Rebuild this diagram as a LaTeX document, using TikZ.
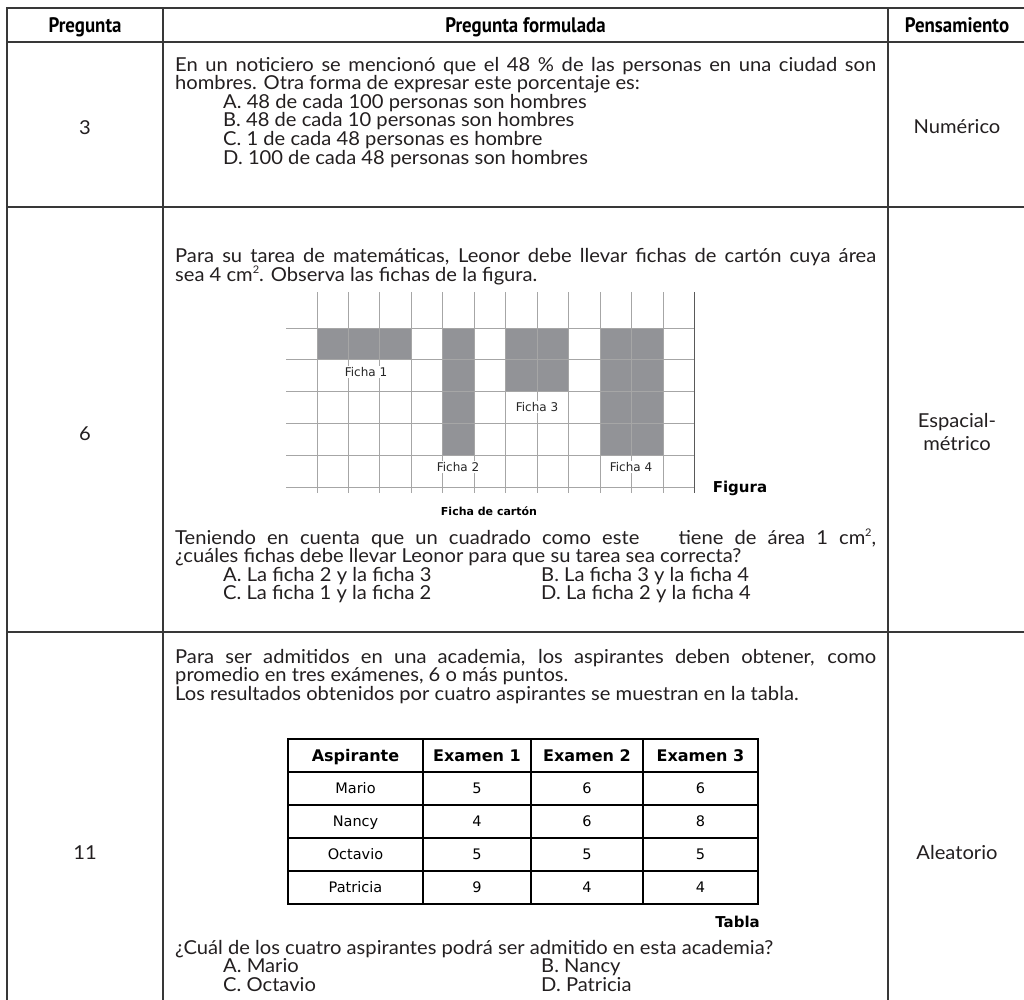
\documentclass[tikz,border=0pt]{standalone}
\usepackage{fontspec}
\setmainfont[FakeStretch=1.05]{Lato}
\newfontfamily\hdrfont[FakeStretch=0.9]{PT Sans}
\newfontfamily\verd{DejaVu Sans}
\newcommand\fsz[1]{\fontsize{#1}{#1}\selectfont}
\newcommand\sqtwo{\raisebox{0.75ex}{\fsz{10.5}2}}
\definecolor{fichagray}{RGB}{146,147,151}
\definecolor{inktext}{RGB}{35,31,32}
\tikzset{
 tbl/.style={draw=black!78, line width=1.3pt},
 hdr/.style={anchor=base, inner sep=0pt, font=\hdrfont\bfseries\fsz{21}, text=black},
 ln/.style={anchor=base west, inner sep=0pt, font=\fsz{19.2}, text=inktext},
 ctr/.style={anchor=base, inner sep=0pt, font=\fsz{19.2}, text=inktext},
 gridl/.style={draw=black!35, line width=0.9pt},
 gridr/.style={draw=black!65, line width=1.3pt},
 ficha/.style={fill=fichagray},
 lab/.style={font=\verd\fsz{12}, fill=white, inner sep=1.2pt, text=black!85},
 labb/.style={font=\verd\bfseries\fsz{11}, inner sep=0pt, text=black},
 tcell/.style={font=\verd\fsz{14.5}, inner sep=0pt, anchor=base, text=black},
 thead/.style={font=\verd\bfseries\fsz{16}, inner sep=0pt, anchor=base, text=black},
 tb2/.style={draw=black, line width=1.4pt},
}
\newcommand\jl[1]{\makebox[701pt][s]{#1}}
\begin{document}
\begin{tikzpicture}[x=1pt,y=-1pt]
\useasboundingbox[fill=white] (0,0) rectangle (1024,999);
% ---- outer table ----
\draw[tbl] (7,1005) -- (7,8) -- (1035,8);
\draw[tbl] (163,8) -- (163,1005);
\draw[tbl] (888,8) -- (888,1005);
\draw[tbl] (7,42) -- (1035,42);
\draw[tbl] (7,207) -- (1035,207);
\draw[tbl] (7,632) -- (1035,632);
% ---- header ----
\node[hdr] (h1) at (85,32) {Pregunta};
\node[hdr] (h2) at (525.5,32) {Pregunta formulada};
\node[hdr] (h3) at (957,32) {Pensamiento};
% ---- row 1 ----
\node[ctr] (n3) at (85,134.5) {3};
\node[ctr] (p1) at (957,133) {Numérico};
\node[ln] (r1a) at (175,71) {\jl{En un noticiero se mencionó que el 48 \% de las personas en una ciudad son}};
\node[ln] (r1b) at (175,89.6) {hombres. Otra forma de expresar este porcentaje es:};
\node[ln] (r1c) at (223,108.2) {A. 48 de cada 100 personas son hombres};
\node[ln] (r1d) at (223,126.8) {B. 48 de cada 10 personas son hombres};
\node[ln] (r1e) at (223,145.4) {C. 1 de cada 48 personas es hombre};
\node[ln] (r1f) at (223,164) {D. 100 de cada 48 personas son hombres};
% ---- row 2 ----
\node[ctr] (n6) at (85,440) {6};
\node[ctr] (p2a) at (957,427) {Espacial-};
\node[ctr] (p2b) at (957,450) {métrico};
\node[ln] (r2a) at (175,262) {\jl{Para su tarea de matemáticas, Leonor debe llevar fichas de cartón cuya área}};
\node[ln] (r2b) at (175,281) {sea 4 cm\sqtwo. Observa las fichas de la figura.};
% grid figure
\fill[ficha] (317,328) rectangle (411.35,359.8);
\fill[ficha] (442.8,328) rectangle (474.25,455.2);
\fill[ficha] (505.7,328) rectangle (568.6,391.6);
\fill[ficha] (600.05,328) rectangle (662.95,455.2);
\foreach \i in {0,...,11} \draw[gridl] (317+\i*31.45,292) -- (317+\i*31.45,493);
\foreach \j in {0,...,5} \draw[gridl] (286,328+\j*31.8) -- (694.4,328+\j*31.8);
\draw[gridr] (694.4,292) -- (694.4,493);
\node[lab] (f1) at (366,372) {Ficha 1};
\node[lab] (f2) at (458,467) {Ficha 2};
\node[lab] (f3) at (537,407) {Ficha 3};
\node[lab] (f4) at (631,467) {Ficha 4};
\node[labb, font=\verd\bfseries\fsz{15}] (fig) at (740,488) {Figura};
\node[labb] (fc) at (489,511) {Ficha de cartón};
\node[ln] (r2c) at (175,544) {\jl{Teniendo en cuenta que un cuadrado como este\hspace{28pt} tiene de área 1 cm\sqtwo,}};
\node[ln] (r2d) at (175,562.6) {¿cuáles fichas debe llevar Leonor para que su tarea sea correcta?};
\node[ln] (r2e) at (223,581.2) {A. La ficha 2 y la ficha 3};
\node[ln] (r2f) at (541,581.2) {B. La ficha 3 y la ficha 4};
\node[ln] (r2g) at (223,599.8) {C. La ficha 1 y la ficha 2};
\node[ln] (r2h) at (541,599.8) {D. La ficha 2 y la ficha 4};
% ---- row 3 ----
\node[ctr] (n11) at (85,859) {11};
\node[ctr] (p3) at (957,859) {Aleatorio};
\node[ln] (r3a) at (175,663) {\jl{Para ser admitidos en una academia, los aspirantes deben obtener, como}};
\node[ln] (r3b) at (175,681.6) {promedio en tres exámenes, 6 o más puntos.};
\node[ln] (r3c) at (175,700.2) {Los resultados obtenidos por cuatro aspirantes se muestran en la tabla.};
% inner table
\draw[tb2] (288,739) rectangle (758,904);
\foreach \xx in {423,531,643} \draw[tb2] (\xx,739) -- (\xx,904);
\foreach \yy in {772,805,838,871} \draw[tb2] (288,\yy) -- (758,\yy);
\node[thead] (ta) at (355.5,761) {Aspirante};
\node[thead] (tb) at (477,761) {Examen 1};
\node[thead] (tc) at (587,761) {Examen 2};
\node[thead] (td) at (700.5,761) {Examen 3};
\node[tcell] (m0) at (355.5,793.5) {Mario};
\node[tcell] (m1) at (477,793.5) {5};
\node[tcell] (m2) at (587,793.5) {6};
\node[tcell] (m3) at (700.5,793.5) {6};
\node[tcell] (c0) at (355.5,826.5) {Nancy};
\node[tcell] (c1) at (477,826.5) {4};
\node[tcell] (c2) at (587,826.5) {6};
\node[tcell] (c3) at (700.5,826.5) {8};
\node[tcell] (o0) at (355.5,859.5) {Octavio};
\node[tcell] (o1) at (477,859.5) {5};
\node[tcell] (o2) at (587,859.5) {5};
\node[tcell] (o3) at (700.5,859.5) {5};
\node[tcell] (q0) at (355.5,892.5) {Patricia};
\node[tcell] (q1) at (477,892.5) {9};
\node[tcell] (q2) at (587,892.5) {4};
\node[tcell] (q3) at (700.5,892.5) {4};
\node[labb, font=\verd\bfseries\fsz{15}, anchor=base east] (tab) at (760,927) {Tabla};
\node[ln] (r3d) at (175,954) {¿Cuál de los cuatro aspirantes podrá ser admitido en esta academia?};
\node[ln] (r3e) at (223,972.6) {A. Mario};
\node[ln] (r3f) at (541,972.6) {B. Nancy};
\node[ln] (r3g) at (223,991.2) {C. Octavio};
\node[ln] (r3h) at (541,991.2) {D. Patricia};
\end{tikzpicture}
\end{document}
